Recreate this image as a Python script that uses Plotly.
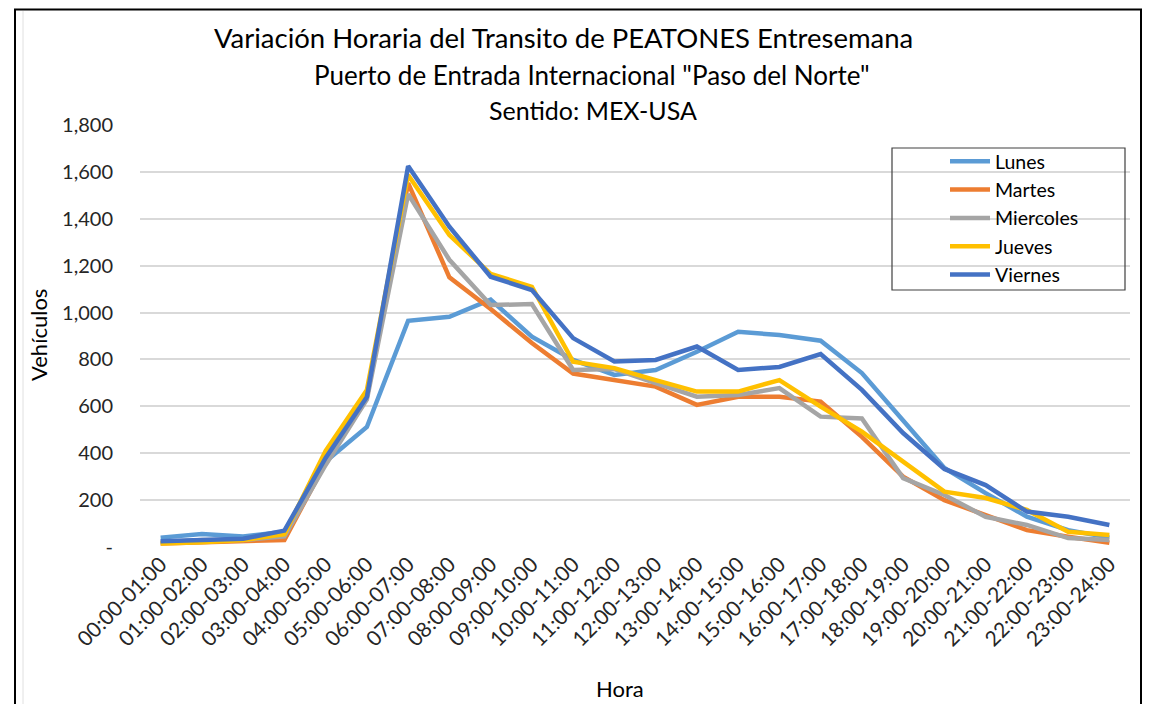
import plotly.graph_objects as go

horas = ["00:00-01:00", "01:00-02:00", "02:00-03:00", "03:00-04:00", "04:00-05:00",
         "05:00-06:00", "06:00-07:00", "07:00-08:00", "08:00-09:00", "09:00-10:00",
         "10:00-11:00", "11:00-12:00", "12:00-13:00", "13:00-14:00", "14:00-15:00",
         "15:00-16:00", "16:00-17:00", "17:00-18:00", "18:00-19:00", "19:00-20:00",
         "20:00-21:00", "21:00-22:00", "22:00-23:00", "23:00-24:00"]

lunes = [40, 55, 45, 65, 365, 512, 965, 982, 1055, 897, 798, 734, 755, 833, 918, 904,
         880, 742, 540, 337, 230, 129, 72, 40]
martes = [15, 20, 25, 30, 360, 640, 1552, 1150, 1015, 870, 740, 712, 684, 606, 641, 641,
          620, 470, 300, 200, 136, 72, 44, 18]
miercoles = [20, 30, 30, 45, 350, 630, 1505, 1225, 1032, 1036, 755, 759, 699, 641, 648, 678,
             556, 548, 294, 222, 129, 94, 38, 30]
jueves = [15, 20, 30, 55, 410, 670, 1587, 1331, 1165, 1110, 790, 763, 712, 663, 663, 712,
          599, 492, 364, 236, 209, 158, 65, 51]
viernes = [25, 30, 35, 70, 380, 640, 1625, 1366, 1153, 1096, 891, 791, 798, 855, 755, 768,
           823, 670, 486, 333, 264, 151, 129, 94]

series_names = ["Lunes", "Martes", "Miercoles", "Jueves", "Viernes"]
series_values = [lunes, martes, miercoles, jueves, viernes]
series_colors = ["#5B9BD5", "#ED7D31", "#A5A5A5", "#FFC000", "#4472C4"]

y_tickvals = [0, 200, 400, 600, 800, 1000, 1200, 1400, 1600, 1800]
y_ticktext = ["-", "200", "400", "600", "800", "1,000", "1,200", "1,400", "1,600", "1,800"]

FONT = "Lato, 'Open Sans', sans-serif"
W, H = 1152, 704
OFF = 8  # page body margin
# plot area in screen pixels
SX0, SX1, SY0, SY1 = 140, 1130, 125, 547
L, T = SX0 - OFF, SY0 - OFF
R, B = W - (SX1 - OFF), H - (SY1 - OFF)
pw, ph = SX1 - SX0, SY1 - SY0


def px(x):
    return (x - SX0) / pw


def py(y):
    return (SY1 - y) / ph


fig = go.Figure()
for name, vals, col in zip(series_names, series_values, series_colors):
    fig.add_trace(go.Scatter(x=horas, y=vals, mode="lines", name=name,
                             line=dict(color=col, width=4.5)))

fig.update_layout(
    width=W, height=H,
    margin=dict(l=L, r=R, t=T, b=B, autoexpand=False),
    paper_bgcolor="white", plot_bgcolor="white",
    font=dict(family=FONT, color="#262626", size=20),
    showlegend=True,
    legend=dict(x=px(945), y=py(142), xanchor="left", yanchor="top",
                bgcolor="rgba(0,0,0,0)", borderwidth=0,
                font=dict(family=FONT, size=19.5, color="#000000"),
                tracegroupgap=0, itemwidth=40),
    xaxis=dict(type="category", range=[-0.5, len(horas) - 0.5], tickangle=-45,
               showgrid=False, showline=False, ticks="",
               tickfont=dict(size=21, color="#262626"), zeroline=False,
               automargin=False),
    yaxis=dict(range=[0, 1800], tickvals=y_tickvals, ticktext=y_ticktext,
               showgrid=True, gridcolor="#D9D9D9", gridwidth=1.5, zeroline=False,
               showline=False, ticks="", tickfont=dict(size=20, color="#262626"),
               ticklabelstandoff=26, automargin=False),
)

# Legend frame
fig.add_shape(type="rect", xref="paper", yref="paper",
              x0=px(892), x1=px(1125), y0=py(290), y1=py(148),
              line=dict(color="#404040", width=1.2), fillcolor="rgba(0,0,0,0)")

# Outer chart frame
fig.add_shape(type="rect", xref="paper", yref="paper",
              x0=px(15), x1=px(1141), y0=py(716), y1=py(9.5),
              line=dict(color="#000000", width=2), fillcolor="rgba(0,0,0,0)")
fig.add_shape(type="line", xref="paper", yref="paper",
              x0=px(23), x1=px(23), y0=py(716), y1=py(11),
              line=dict(color="#E0E0E0", width=1))

annots = [
    dict(text="Variación Horaria del Transito de PEATONES Entresemana", x=px(563), y=py(38), size=27.5),
    dict(text="Puerto de Entrada Internacional \"Paso del Norte\"", x=px(592), y=py(75), size=26),
    dict(text="Sentido: MEX-USA", x=px(593), y=py(110), size=25),
    dict(text="Hora", x=px(620), y=py(688), size=22),
]
for a in annots:
    fig.add_annotation(text=a["text"], x=a["x"], y=a["y"], xref="paper", yref="paper",
                       xanchor="center", yanchor="middle", showarrow=False,
                       font=dict(family=FONT, size=a["size"], color="#000000"))
fig.add_annotation(text="Vehículos", x=px(38), y=py(335), xref="paper", yref="paper",
                   xanchor="center", yanchor="middle", showarrow=False, textangle=-90,
                   font=dict(family=FONT, size=22, color="#000000"))

fig.write_html("out.html")
